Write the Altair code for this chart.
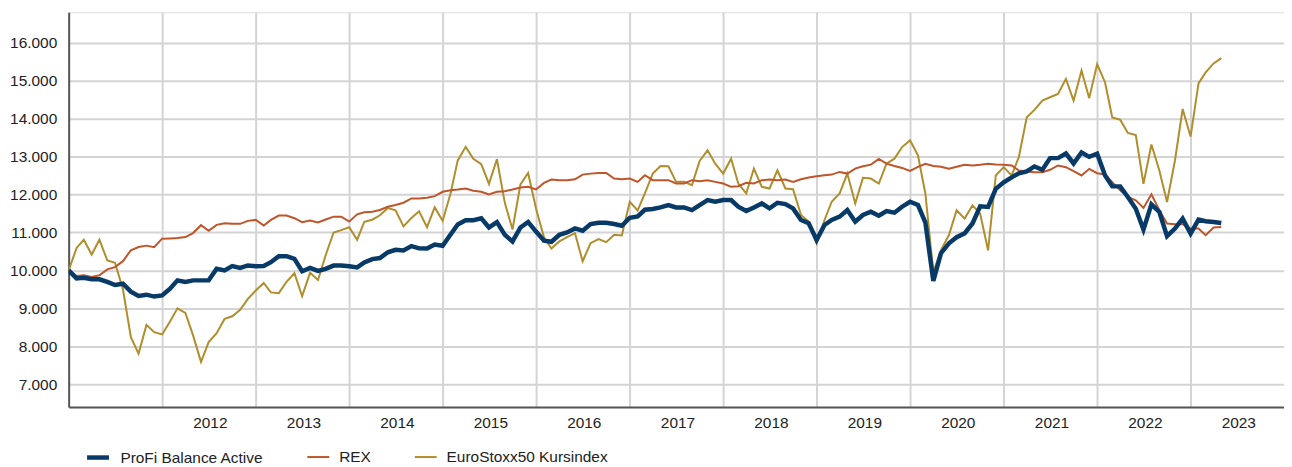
import altair as alt
import pandas as pd

# Monthly points, starting at 2011-01 (149 months)
months = pd.date_range("2011-01-01", periods=149, freq="MS").strftime("%Y-%m-%dT00:00:00").tolist()

profi = [
    10000, 9790, 9805, 9765, 9765, 9695, 9615, 9650, 9440, 9325, 9360, 9310,
    9340, 9518, 9737, 9693, 9737, 9737, 9740, 10044, 10000, 10114, 10066, 10130,
    10110, 10115, 10215, 10375, 10375, 10305, 9978, 10066, 9987, 10040, 10127, 10127,
    10110, 10078, 10210, 10298, 10325, 10478, 10543, 10526, 10640, 10580, 10575, 10683,
    10650, 10945, 11210, 11320, 11320, 11372, 11132, 11272, 10936, 10762, 11132, 11275,
    11023, 10784, 10753, 10936, 11001, 11105, 11045, 11221, 11256, 11256, 11221, 11177,
    11387, 11422, 11597, 11616, 11659, 11721, 11659, 11659, 11590, 11721, 11852, 11808,
    11852, 11852, 11677, 11563, 11659, 11764, 11633, 11782, 11747, 11633, 11328, 11240,
    10803, 11197, 11328, 11415, 11590, 11284, 11459, 11546, 11441, 11563, 11520, 11677,
    11808, 11721, 11260, 9720, 10453, 10715, 10876, 10976, 11235, 11687, 11670, 12148,
    12322, 12452, 12557, 12609, 12739, 12652, 12957, 12957, 13078, 12817, 13104, 12990,
    13075, 12501, 12213, 12213, 11933, 11626, 11075, 11740, 11539, 10900, 11102, 11364,
    10970, 11338, 11295, 11277, 11250,
]

rex = [
    10000, 9852, 9870, 9826, 9870, 10026, 10087, 10243, 10530, 10617, 10652, 10609,
    10835, 10843, 10852, 10878, 10983, 11191, 11043, 11200, 11243, 11226, 11226, 11304,
    11330, 11183, 11330, 11443, 11443, 11374, 11270, 11313, 11261, 11340, 11416, 11416,
    11285, 11477, 11529, 11547, 11590, 11677, 11721, 11782, 11895, 11895, 11913, 11956,
    12070, 12113, 12131, 12157, 12096, 12070, 12000, 12070, 12087, 12131, 12183, 12200,
    12131, 12305, 12392, 12375, 12375, 12401, 12523, 12549, 12567, 12567, 12418, 12401,
    12418, 12332, 12507, 12376, 12376, 12376, 12288, 12288, 12376, 12349, 12376, 12332,
    12288, 12201, 12218, 12306, 12288, 12376, 12393, 12376, 12393, 12332, 12402, 12445,
    12480, 12507, 12524, 12594, 12550, 12681, 12742, 12786, 12934, 12812, 12751, 12699,
    12620, 12725, 12810, 12750, 12730, 12678, 12730, 12780, 12763, 12781, 12807, 12789,
    12781, 12763, 12632, 12605, 12588, 12588, 12649, 12763, 12719, 12614, 12500, 12675,
    12560, 12528, 12326, 12108, 11933, 11845, 11644, 12003, 11583, 11233, 11216, 11216,
    11102, 11102, 10927, 11128, 11146,
]

euro = [
    10000, 10591, 10809, 10417, 10809, 10261, 10200, 9504, 8243, 7809, 8565, 8374,
    8313, 8652, 9000, 8878, 8287, 7591, 8113, 8348, 8722, 8791, 8960, 9250,
    9470, 9670, 9420, 9400, 9700, 9925, 9320, 9935, 9745, 10400, 10998, 11062,
    11136, 10808, 11282, 11335, 11452, 11641, 11580, 11160, 11380, 11556, 11138, 11660,
    11308, 12027, 12897, 13254, 12940, 12797, 12278, 12927, 11778, 11077, 12265, 12566,
    11625, 10872, 10576, 10763, 10876, 10981, 10241, 10718, 10823, 10745, 10936, 10919,
    11808, 11580, 12030, 12550, 12751, 12742, 12332, 12332, 12245, 12882, 13162, 12812,
    12550, 12943, 12288, 12026, 12681, 12201, 12157, 12638, 12157, 12140, 11459, 11284,
    10716, 11328, 11808, 12026, 12550, 11764, 12437, 12419, 12288, 12812, 12943, 13249,
    13424, 13031, 12020, 9950, 10535, 10930, 11585, 11365, 11711, 11491, 10526, 12500,
    12719, 12500, 12982, 14035, 14228, 14474, 14561, 14649, 15044, 14474, 15263, 14537,
    15435, 14950, 14031, 13969, 13619, 13567, 12281, 13315, 12633, 11802, 12895, 14251,
    13525, 14925, 15214, 15451, 15591,
]

series_names = ["ProFi Balance Active", "REX", "EuroStoxx50 Kursindex"]
series_colors = ["#083a68", "#c0552a", "#b08e2c"]
series_widths = [4.5, 2, 2]
year_ticks = list(range(2012, 2024))
y_ticks = list(range(7000, 17000, 1000))

rows = []
# draw order: EuroStoxx first, then REX, then ProFi on top
for name, vals in [(series_names[2], euro), (series_names[1], rex), (series_names[0], profi)]:
    for d, v in zip(months, vals):
        rows.append({"date": d, "value": v, "series": name})
df = pd.DataFrame(rows)

FONT = "Liberation Sans"

legend_kw = dict(
    title=None, orient="none", legendX=16, legendY=434, direction="horizontal",
    symbolType="stroke", symbolSize=484, labelFontSize=15.5, labelFont=FONT,
    labelColor="#222222", labelOffset=9, columnPadding=40, padding=0,
    labelLimit=400,
)

chart = alt.Chart(df).mark_line(strokeJoin="miter", clip=True).encode(
    x=alt.X(
        "date:T",
        scale=alt.Scale(domain=[alt.DateTime(year=2011, month=1, date=1),
                                alt.DateTime(year=2024, month=1, date=1)]),
        axis=alt.Axis(
            values=[alt.DateTime(year=y, month=1, date=1) for y in year_ticks],
            format="%Y", labelOffset=48, ticks=False, tickSize=0, title=None,
            grid=True, gridColor="#d4d4d4", gridWidth=2,
            domainColor="#555555", domainWidth=2,
            labelFontSize=15.5, labelFont=FONT, labelColor="#222222",
            labelPadding=9, labelFlush=False, labelOverlap=False,
        ),
    ),
    y=alt.Y(
        "value:Q",
        scale=alt.Scale(domain=[6400, 16800], nice=False, zero=False),
        axis=alt.Axis(
            values=y_ticks, title=None, ticks=False, tickSize=0,
            labelExpr="replace(format(datum.value, ',.0f'), ',', '.')",
            grid=True, gridColor="#d4d4d4", gridWidth=2,
            domainColor="#555555", domainWidth=2,
            labelFontSize=15.5, labelFont=FONT, labelColor="#222222",
            labelPadding=12,
        ),
    ),
    color=alt.Color("series:N", scale=alt.Scale(domain=series_names, range=series_colors),
                    legend=alt.Legend(**legend_kw)),
    strokeWidth=alt.StrokeWidth("series:N",
                                scale=alt.Scale(type="ordinal", domain=series_names, range=series_widths),
                                legend=alt.Legend(**legend_kw)),
).properties(
    width=1222, height=397,
    autosize=alt.AutoSizeParams(type="none"),
    padding={"left": 61, "top": 3, "right": 0, "bottom": 58},
).configure_view(stroke=None).configure(background="white")

chart.save("out.html", embed_options={"renderer": "svg", "actions": False})
